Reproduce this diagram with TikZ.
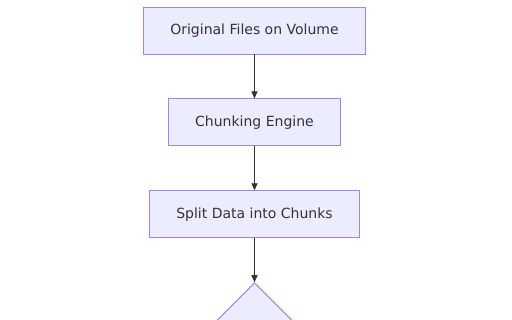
\documentclass[tikz,border=0pt]{standalone}
\usepackage{fontspec}
\setmainfont{DejaVu Sans}
\usetikzlibrary{shapes.geometric,arrows.meta,positioning}
\definecolor{nodefill}{HTML}{ECECFF}
\definecolor{nodeline}{HTML}{9370DB}
\definecolor{inkgrey}{HTML}{333333}
\tikzset{
  procbox/.style={rectangle,draw=nodeline!85,fill=nodefill,text=inkgrey,
    font=\fontsize{14pt}{16pt}\selectfont,minimum height=47pt,inner xsep=27pt,
    line width=0.9pt},
  choice/.style={diamond,draw=nodeline!85,fill=nodefill,minimum width=160pt,
    minimum height=160pt,inner sep=0pt,line width=0.9pt},
  flowarrow/.style={-{Triangle[length=7pt,width=6pt]},draw=inkgrey,line width=0.8pt},
}
\begin{document}
\begin{tikzpicture}[x=1pt,y=-1pt,node distance=44pt]
  \useasboundingbox (0,0) rectangle (512,320);
  \clip (0,0) rectangle (512,320);
  \node[procbox] (files) at (254.5,30.5) {Original Files on Volume};
  \node[procbox,below=of files] (engine) {Chunking Engine};
  \node[procbox,below=of engine] (split) {Split Data into Chunks};
  \node[choice,below=44pt of split] (check) {};
  \draw[flowarrow] (files) -- (engine);
  \draw[flowarrow] (engine) -- (split);
  \draw[flowarrow] (split) -- (check);
\end{tikzpicture}
\end{document}
